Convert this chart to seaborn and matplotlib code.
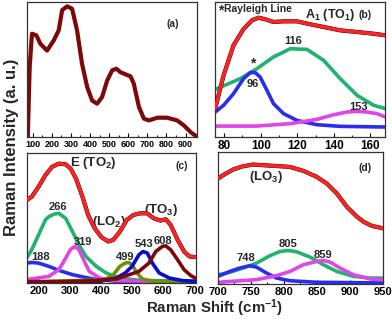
import numpy as np
import pandas as pd
import seaborn as sns
import matplotlib
matplotlib.use("Agg")
import matplotlib.pyplot as plt
from matplotlib.ticker import MultipleLocator, NullLocator

# ---- panel (a): full spectrum ----
a_x = [74, 84, 96, 119, 140, 175, 210, 236, 254, 280, 306, 332, 358, 385, 411, 437,
       463, 490, 516, 538, 559, 586, 612, 629, 656, 682, 708, 752, 804, 856, 891, 926, 961]
a_y = [0.0, 0.52, 0.765, 0.753, 0.69, 0.64, 0.716, 0.79, 0.94, 0.968, 0.95, 0.79, 0.543,
       0.37, 0.27, 0.247, 0.296, 0.42, 0.494, 0.506, 0.48, 0.464, 0.449, 0.395, 0.222,
       0.136, 0.123, 0.143, 0.143, 0.123, 0.086, 0.037, 0.0]

# ---- panel (b): A1(TO1) region ----
b_fit_x = [75.1, 79.7, 85.1, 90.6, 95.2, 98.8, 102.5, 107.0, 112.5, 119.8, 125.3, 134.4,
           143.5, 152.7, 161.8, 168.2]
b_fit_y = [0.21, 0.457, 0.679, 0.80, 0.864, 0.884, 0.872, 0.852, 0.857, 0.857, 0.84,
           0.815, 0.79, 0.778, 0.765, 0.753]
b116_x = [75.1, 88.8, 97.9, 107.0, 116.2, 125.3, 134.4, 143.5, 152.7, 161.8, 168.2]
b116_y = [0.353, 0.432, 0.506, 0.593, 0.654, 0.649, 0.568, 0.432, 0.309, 0.235, 0.21]
b96_x = [75.1, 79.7, 85.1, 90.6, 94.3, 97.0, 99.7, 103.4, 107.0, 112.5, 119.8, 130.8, 143.5, 168.2]
b96_y = [0.185, 0.235, 0.321, 0.432, 0.477, 0.477, 0.444, 0.346, 0.247, 0.173, 0.123,
         0.091, 0.079, 0.074]
b153_x = [75.1, 97.9, 116.2, 130.8, 139.9, 147.2, 152.7, 158.1, 163.6, 168.2]
b153_y = [0.081, 0.081, 0.099, 0.131, 0.165, 0.185, 0.19, 0.185, 0.173, 0.148]

# ---- panel (c): 160-700 region ----
c_fit_x = [162, 178, 200, 222, 243, 265, 287, 303, 320, 341, 359, 380, 402, 424, 440, 461,
           483, 504, 526, 548, 570, 591, 608, 624, 646, 667, 684, 703]
c_fit_y = [0.638, 0.663, 0.74, 0.829, 0.893, 0.918, 0.913, 0.88, 0.804, 0.663, 0.523,
           0.421, 0.352, 0.319, 0.332, 0.395, 0.485, 0.523, 0.536, 0.536, 0.497, 0.48,
           0.49, 0.446, 0.332, 0.242, 0.204, 0.199]
c266_x = [162, 178, 200, 222, 233, 250, 265, 287, 309, 330, 352, 385, 417, 461, 526, 703]
c266_y = [0.191, 0.255, 0.37, 0.485, 0.51, 0.53, 0.536, 0.497, 0.395, 0.293, 0.204,
          0.128, 0.077, 0.038, 0.02, 0.013]
c188_x = [162, 178, 200, 233, 265, 309, 374, 450, 703]
c188_y = [0.153, 0.158, 0.153, 0.128, 0.097, 0.064, 0.031, 0.013, 0.005]
c319_x = [162, 233, 265, 287, 303, 317, 330, 347, 363, 396, 450, 703]
c319_y = [0.026, 0.051, 0.102, 0.191, 0.26, 0.281, 0.255, 0.166, 0.089, 0.038, 0.018, 0.005]
c499_x = [162, 413, 440, 461, 478, 489, 500, 516, 533, 565, 703]
c499_y = [0.005, 0.026, 0.064, 0.128, 0.153, 0.158, 0.14, 0.077, 0.031, 0.013, 0.005]
c543_x = [162, 396, 450, 478, 500, 522, 535, 549, 565, 587, 620, 663, 703]
c543_y = [0.005, 0.013, 0.038, 0.077, 0.128, 0.217, 0.242, 0.23, 0.153, 0.077, 0.038,
          0.018, 0.013]
c608_x = [162, 341, 450, 522, 554, 576, 597, 608, 624, 646, 667, 689, 703]
c608_y = [0.01, 0.013, 0.031, 0.089, 0.153, 0.242, 0.281, 0.286, 0.255, 0.179, 0.102,
          0.056, 0.038]

# ---- panel (d): LO3 region ----
d_fit_x = [700, 707.6, 722.8, 738, 753.2, 768.5, 788.7, 809, 829.3, 849.6, 864.8, 880,
           895.2, 910.4, 920.5, 933.2, 950]
d_fit_y = [0.799, 0.824, 0.867, 0.892, 0.905, 0.9, 0.894, 0.887, 0.857, 0.812, 0.761,
           0.686, 0.585, 0.51, 0.472, 0.44, 0.422]
d805_x = [700, 717.7, 738, 758.3, 778.6, 793.8, 806.5, 819.1, 839.4, 859.7, 880, 905.3, 930.7, 950]
d805_y = [0.07, 0.088, 0.121, 0.158, 0.214, 0.246, 0.254, 0.244, 0.204, 0.146, 0.095,
          0.058, 0.045, 0.045]
d748_x = [700, 717.7, 733, 748.2, 758.3, 773.5, 788.7, 809, 849.6, 950]
d748_y = [0.058, 0.095, 0.121, 0.138, 0.128, 0.083, 0.045, 0.025, 0.013, 0.008]
d859_x = [700, 758.3, 788.7, 809, 829.3, 849.6, 859.7, 869.8, 885, 905.3, 930.7, 950]
d859_y = [0.013, 0.033, 0.063, 0.095, 0.146, 0.171, 0.178, 0.166, 0.121, 0.07, 0.038, 0.033]

RED = "#ff2222"
GREEN = "#1fb36e"
BLUE = "#2a2df0"
MAGENTA = "#de46e6"
MAROON = "#7d0808"
OLIVE = "#6f8f08"
DBLUE = "#0a0ad0"

sns.set_theme(style="white")
plt.rcParams['font.family'] = ['Liberation Sans', 'DejaVu Sans']
plt.rcParams['font.weight'] = 'bold'
plt.rcParams['mathtext.fontset'] = 'custom'
plt.rcParams['mathtext.rm'] = 'Liberation Sans:bold'
plt.rcParams['mathtext.bf'] = 'Liberation Sans:bold'
plt.rcParams['mathtext.default'] = 'rm'

fig = plt.figure(figsize=(3.92, 3.19), dpi=100)
ax_a = fig.add_axes([0.0689, 0.5705, 0.4337, 0.4232])
ax_b = fig.add_axes([0.5485, 0.5705, 0.4337, 0.4232])
ax_c = fig.add_axes([0.0689, 0.1129, 0.4310, 0.4075])
ax_d = fig.add_axes([0.5561, 0.1097, 0.4209, 0.4138])


def curve(ax, x, y, color, lw=2.6, z=2):
    sns.lineplot(x=x, y=y, ax=ax, color=color, lw=lw, zorder=z,
                 solid_capstyle='round', solid_joinstyle='round')


def measured(ax, x, y):
    # black measured data peeking out behind the red fit
    curve(ax, x, y, "black", lw=3.0, z=3)
    curve(ax, x, y, RED, lw=2.6, z=4)


curve(ax_a, a_x, a_y, MAROON, lw=3.0)

curve(ax_b, b116_x, b116_y, GREEN)
curve(ax_b, b96_x, b96_y, BLUE)
curve(ax_b, b153_x, b153_y, MAGENTA)
measured(ax_b, b_fit_x, b_fit_y)

curve(ax_c, c266_x, c266_y, GREEN)
curve(ax_c, c188_x, c188_y, BLUE)
curve(ax_c, c319_x, c319_y, MAGENTA)
curve(ax_c, c499_x, c499_y, OLIVE)
curve(ax_c, c543_x, c543_y, DBLUE)
curve(ax_c, c608_x, c608_y, MAROON)
measured(ax_c, c_fit_x, c_fit_y)

curve(ax_d, d805_x, d805_y, GREEN)
curve(ax_d, d748_x, d748_y, BLUE)
curve(ax_d, d859_x, d859_y, MAGENTA)
measured(ax_d, d_fit_x, d_fit_y)

setup = [
    (ax_a, (70, 960), (0, 1.0), 100, 50, 6.5),
    (ax_b, (75, 168), (0, 1.0), 20, 10, 8.5),
    (ax_c, (163, 705), (0, 1.0), 100, 50, 8),
    (ax_d, (700, 950), (0, 1.0), 50, 25, 8),
]
for ax, xl, yl, major, minor, fs in setup:
    ax.set_xlim(*xl)
    ax.set_ylim(*yl)
    ax.set_xlabel("")
    ax.set_ylabel("")
    ax.xaxis.set_major_locator(MultipleLocator(major))
    ax.xaxis.set_minor_locator(MultipleLocator(minor))
    ax.yaxis.set_major_locator(NullLocator())
    ax.tick_params(axis='x', which='major', direction='in', length=3, width=0.8,
                   labelsize=fs, pad=2, bottom=True, colors='black')
    ax.tick_params(axis='x', which='minor', direction='in', length=1.8, width=0.8,
                   bottom=True)
    for lab in ax.get_xticklabels():
        lab.set_fontweight('bold')
    for sp in ax.spines.values():
        sp.set_color('#333333')
        sp.set_linewidth(0.9)

kw = dict(fontweight='bold', ha='center', va='center')
ax_a.text(0.86, 0.84, "(a)", transform=ax_a.transAxes, fontsize=7.5, **kw)

ax_b.text(0.015, 0.935, "*", transform=ax_b.transAxes, fontsize=10, fontweight='bold', ha='left', va='center')
ax_b.text(0.055, 0.945, "Rayleigh Line", transform=ax_b.transAxes, fontsize=7.5, fontweight='bold', ha='left', va='center')
ax_b.text(0.68, 0.905, "A$_1$ (TO$_1$)", transform=ax_b.transAxes, fontsize=9, **kw)
ax_b.text(0.88, 0.905, "(b)", transform=ax_b.transAxes, fontsize=7.5, **kw)
ax_b.text(118, 0.71, "116", fontsize=8, **kw)
ax_b.text(95.5, 0.545, "*", fontsize=10, **kw)
ax_b.text(95.5, 0.395, "96", fontsize=8, **kw)
ax_b.text(153.5, 0.22, "153", fontsize=8, **kw)

ax_c.text(0.39, 0.92, "E (TO$_2$)", transform=ax_c.transAxes, fontsize=9.5, **kw)
ax_c.text(0.915, 0.90, "(c)", transform=ax_c.transAxes, fontsize=7.5, **kw)
ax_c.text(426, 0.47, "(LO$_2$)", fontsize=9.5, **kw)
ax_c.text(592, 0.56, "(TO$_3$)", fontsize=9.5, **kw)
ax_c.text(262, 0.585, "266", fontsize=8, **kw)
ax_c.text(343, 0.315, "319", fontsize=8, **kw)
ax_c.text(205, 0.20, "188", fontsize=8, **kw)
ax_c.text(477, 0.20, "499", fontsize=8, **kw)
ax_c.text(538, 0.30, "543", fontsize=8, **kw)
ax_c.text(599, 0.325, "608", fontsize=8, **kw)

ax_d.text(773, 0.81, "(LO$_3$)", fontsize=9.5, **kw)
ax_d.text(0.89, 0.88, "(d)", transform=ax_d.transAxes, fontsize=7.5, **kw)
ax_d.text(743, 0.20, "748", fontsize=8, **kw)
ax_d.text(806, 0.30, "805", fontsize=8, **kw)
ax_d.text(859, 0.22, "859", fontsize=8, **kw)

fig.text(0.03, 0.537, "Raman Intensity (a. u.)", rotation=90, fontsize=12,
         fontweight='bold', ha='center', va='center')
fig.text(0.548, 0.035, "Raman Shift (cm$^{-1}$)", fontsize=10.8,
         fontweight='bold', ha='center', va='center')

fig.savefig("out.png", dpi=100)
